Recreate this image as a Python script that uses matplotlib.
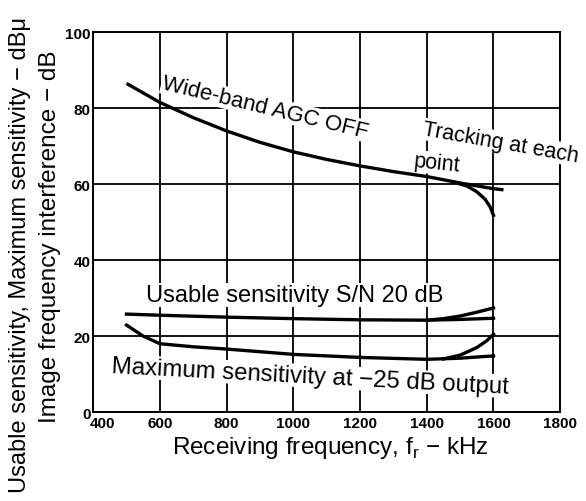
"""
Receiver sensitivity / image interference vs receiving frequency
"""
import numpy as np
import matplotlib
matplotlib.use('Agg')
import matplotlib.pyplot as plt
from matplotlib.transforms import ScaledTranslation

plt.rcParams['font.family'] = ['Liberation Sans', 'DejaVu Sans']

# Wide-band AGC OFF (image frequency interference)
agc_x = [500, 600, 700, 800, 900, 1000, 1100, 1200, 1300, 1400, 1500, 1600, 1630]
agc_y = [86.5, 81.5, 77.5, 74.0, 71.0, 68.5, 66.5, 64.8, 63.3, 62.0, 60.3, 58.8, 58.5]
# tracking at each point branch
agc_trk_x = [1480, 1520, 1550, 1575, 1590, 1600]
agc_trk_y = [60.6, 59.5, 58.0, 56.0, 54.0, 51.8]

# Usable sensitivity S/N 20 dB
use_x = [500, 600, 800, 1000, 1200, 1400, 1500, 1600]
use_y = [25.8, 25.5, 25.0, 24.6, 24.3, 24.2, 24.4, 24.7]
use_trk_x = [1400, 1450, 1500, 1550, 1600]
use_trk_y = [24.2, 24.6, 25.3, 26.3, 27.4]

# Maximum sensitivity at -25 dB output
max_x = [500, 550, 600, 700, 800, 1000, 1200, 1400, 1500, 1600]
max_y = [22.9, 20.0, 18.0, 17.2, 16.6, 15.2, 14.4, 13.9, 14.2, 14.8]
max_trk_x = [1450, 1500, 1550, 1580, 1600]
max_trk_y = [14.0, 15.0, 17.0, 18.8, 20.5]

xticks = [400, 600, 800, 1000, 1200, 1400, 1600, 1800]
yticks = [0, 20, 40, 60, 80, 100]

fig = plt.figure(figsize=(5.86, 5.02), dpi=100)
ax = fig.add_axes([0.159, 0.177, 0.797, 0.757])

ax.set_xlim(400, 1800)
ax.set_ylim(0, 100)
ax.set_xticks(xticks)
ax.set_yticks(yticks)
ax.set_xticklabels([str(v) for v in xticks], fontsize=11, fontweight='bold')
ax.set_yticklabels([str(v) for v in yticks], fontsize=11, fontweight='bold')
ax.tick_params(length=0, pad=3)
ax.tick_params(axis='y', pad=2)
# nudge the "400" label right, clear of the "0"
lbl = ax.get_xticklabels()[0]
lbl.set_transform(lbl.get_transform() + ScaledTranslation(7 / 72, 0, fig.dpi_scale_trans))
for s in ax.spines.values():
    s.set_linewidth(1.4)
ax.grid(True, color='black', lw=1.3)
ax.set_axisbelow(True)

lw = 2.4
ax.plot(agc_x, agc_y, color='black', lw=lw, solid_capstyle='butt')
ax.plot(agc_trk_x, agc_trk_y, color='black', lw=lw)
ax.plot(use_x, use_y, color='black', lw=lw)
ax.plot(use_trk_x, use_trk_y, color='black', lw=lw)
ax.plot(max_x, max_y, color='black', lw=lw)
ax.plot(max_trk_x, max_trk_y, color='black', lw=lw)

box = dict(facecolor='white', edgecolor='none', pad=0.5)
ax.text(915, 80.3, "Wide-band AGC OFF", fontsize=16, rotation=-13.5,
        ha='center', va='center', bbox=box, zorder=1)
ax.text(1622, 71.0, "Tracking at each", fontsize=15.5, rotation=-10,
        ha='center', va='center', bbox=box)
ax.text(1430, 65.5, "point", fontsize=15.5, rotation=-6,
        ha='center', va='center', bbox=box)
ax.text(1003, 30.8, "Usable sensitivity S/N 20 dB", fontsize=17,
        ha='center', va='center', bbox=box)
ax.text(1050, 9.5, "Maximum sensitivity at \u221225 dB output", fontsize=17.3,
        rotation=-3, ha='center', va='center', bbox=box)

fig.text(330 / 586, 1 - 448 / 502, "Receiving frequency, f$_\\mathregular{r}$ \u2212 kHz",
         fontsize=17.5, ha='center', va='center')

fig.text(20 / 586, 1 - 255 / 502, "Usable sensitivity, Maximum sensitivity \u2212 dB\u03bc",
         rotation=90, fontsize=17, ha='center', va='center')
fig.text(50 / 586, 1 - 237 / 502, "Image frequency interference \u2212 dB",
         rotation=90, fontsize=17.5, ha='center', va='center')

fig.savefig('out.png', dpi=100, facecolor='white')
plt.close(fig)
